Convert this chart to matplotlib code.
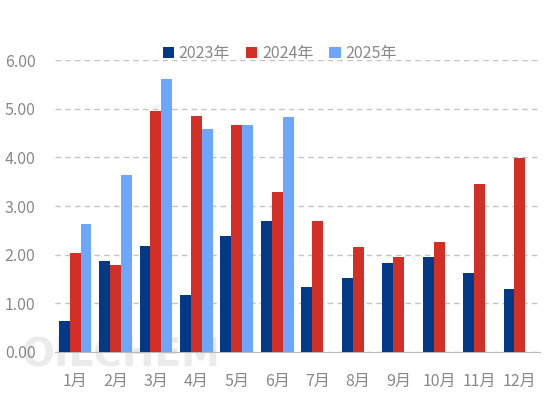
import numpy as np
import matplotlib
matplotlib.use('Agg')
from matplotlib import pyplot as plt

plt.rcParams['font.family'] = ['Noto Sans CJK SC', 'DejaVu Sans']

months = ['1月', '2月', '3月', '4月', '5月', '6月', '7月', '8月', '9月', '10月', '11月', '12月']
y2023 = [0.64, 1.87, 2.18, 1.17, 2.38, 2.69, 1.34, 1.52, 1.83, 1.95, 1.62, 1.29]
y2024 = [2.03, 1.79, 4.95, 4.85, 4.66, 3.29, 2.69, 2.16, 1.95, 2.26, 3.45, 3.99]
y2025 = [2.63, 3.64, 5.61, 4.58, 4.66, 4.83]
labels = ['2023年', '2024年', '2025年']
colors = ['#023a87', '#d22f27', '#6ca6fd']

fig = plt.figure(figsize=(5.54, 3.98), dpi=100)
ax = fig.add_axes([0.099, 0.1156, 0.876, 0.7335])

x = np.arange(len(months))
w = 0.27
ax.bar(x - w, y2023, w, color=colors[0], label=labels[0], zorder=3)
ax.bar(x, y2024, w, color=colors[1], label=labels[1], zorder=3)
ax.bar(x[:len(y2025)] + w, y2025, w, color=colors[2], label=labels[2], zorder=3)

ax.set_xlim(-0.5, 11.5)
ax.set_ylim(0, 6)
ax.set_yticks(np.arange(0, 7, 1))
ax.set_yticklabels(['%.2f' % v for v in np.arange(0, 7, 1)])
ax.set_xticks(x)
ax.set_xticklabels(months)
ax.grid(axis='y', color='#c4c4c4', linestyle=(0, (4, 3)), linewidth=1, zorder=0)
for s in ['top', 'right', 'left']:
    ax.spines[s].set_visible(False)
ax.spines['bottom'].set_color('#bbbbbb')
ax.tick_params(axis='both', length=0, colors='#888888', labelsize=11.5)
ax.tick_params(axis='x', pad=15)
ax.tick_params(axis='y', pad=14)

# watermark, behind the bars
ax.text(0.038, 0.078, 'OILCHEM', fontsize=28, fontweight='bold', color='#ebebeb',
        family='DejaVu Sans', transform=fig.transFigure, zorder=1, clip_on=False)

ax.legend(loc='center', bbox_to_anchor=(0.505, 0.866), ncol=3, frameon=False,
          fontsize=11.5, labelcolor='#888888', handlelength=0.7, handleheight=0.7,
          handletextpad=0.3, columnspacing=1.0, bbox_transform=fig.transFigure)

fig.savefig('out.png', dpi=100)
